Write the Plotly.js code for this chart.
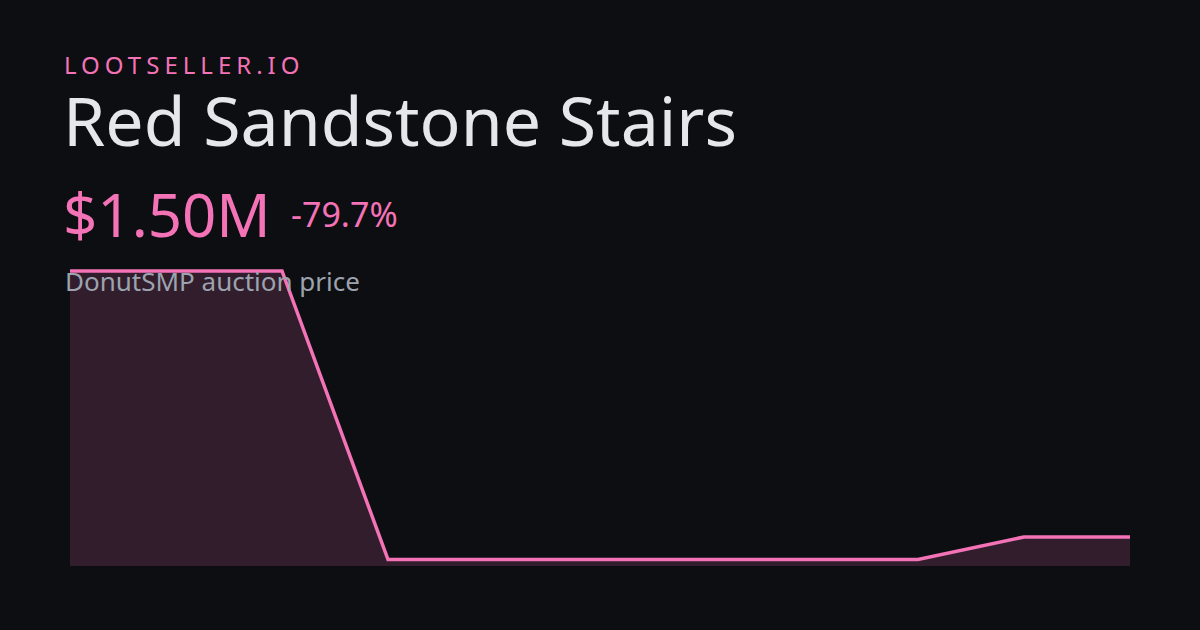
<!DOCTYPE html>
<html>
<head>
<meta charset="utf-8">
<script src="https://cdn.plot.ly/plotly-3.0.1.min.js"></script>
<style>
html,body{margin:0;padding:0;background:#0d0e12;}
#chart{width:1200px;height:630px;}
</style>
</head>
<body>
<div id="chart"></div>
<script>
// Data
const days = [0, 1, 2, 3, 4, 5, 6, 7, 8, 9, 10];
const prices = [7390000, 7390000, 7390000, 1000000, 1000000, 1000000, 1000000, 1000000, 1000000, 1500000, 1500000];
const brandLabel = "LOOTSELLER.IO";
const itemName = "Red Sandstone Stairs";
const priceLabel = "$1.50M";
const changeLabel = "-79.7%";
const subLabel = "DonutSMP auction price";

const W = 1200, H = 630;
const mL = 70, mR = 70, mT = 200, mB = 64;
const plotH = H - mT - mB;
const plotW = W - mL - mR;
function py(p){ return (H - mB - p) / plotH; }
function px(p){ return (p - mL) / plotW; }

const pink = "#f472b6";

const trace = {
  x: days,
  y: prices,
  type: "scatter",
  mode: "lines",
  line: {color: pink, width: 3.5, shape: "linear"},
  fill: "tozeroy",
  fillcolor: "rgba(244,114,182,0.16)",
  hoverinfo: "skip"
};

const font = "Noto Sans, Open Sans, DejaVu Sans, sans-serif";

const layout = {
  width: W, height: H,
  paper_bgcolor: "#0d0e12",
  plot_bgcolor: "rgba(0,0,0,0)",
  margin: {l: mL, r: mR, t: mT, b: mB, pad: 0},
  showlegend: false,
  xaxis: {range: [0, 10], visible: false, fixedrange: true},
  yaxis: {range: [857000, 8962000], visible: false, fixedrange: true},
  annotations: [
    {text: brandLabel, xref: "paper", yref: "paper", x: px(62), y: py(64), xanchor: "left", yanchor: "middle",
     showarrow: false, font: {family: font, size: 24, color: pink}},
    {text: itemName, xref: "paper", yref: "paper", x: px(61), y: py(120), xanchor: "left", yanchor: "middle",
     showarrow: false, font: {family: font, size: 68, color: "#e5e7eb"}},
    {text: priceLabel, xref: "paper", yref: "paper", x: px(61), y: py(214), xanchor: "left", yanchor: "middle",
     showarrow: false, font: {family: font, size: 60, color: pink}},
    {text: changeLabel, xref: "paper", yref: "paper", x: px(289), y: py(214), xanchor: "left", yanchor: "middle",
     showarrow: false, font: {family: font, size: 34, color: pink}},
    {text: subLabel, xref: "paper", yref: "paper", x: px(63), y: py(281), xanchor: "left", yanchor: "middle",
     showarrow: false, font: {family: font, size: 26, color: "#9ca3af"}}
  ]
};

Plotly.newPlot("chart", [trace], layout, {staticPlot: true, displayModeBar: false}).then(function(){
  const t = document.querySelectorAll(".annotation-text")[0];
  if (t) {
    const before = t.getBBox().x;
    t.style.letterSpacing = "5px";
    const after = t.getBBox().x;
    const x0 = parseFloat(t.getAttribute("x")) || 0;
    t.setAttribute("x", x0 + (before - after));
  }
});
</script>
</body>
</html>
